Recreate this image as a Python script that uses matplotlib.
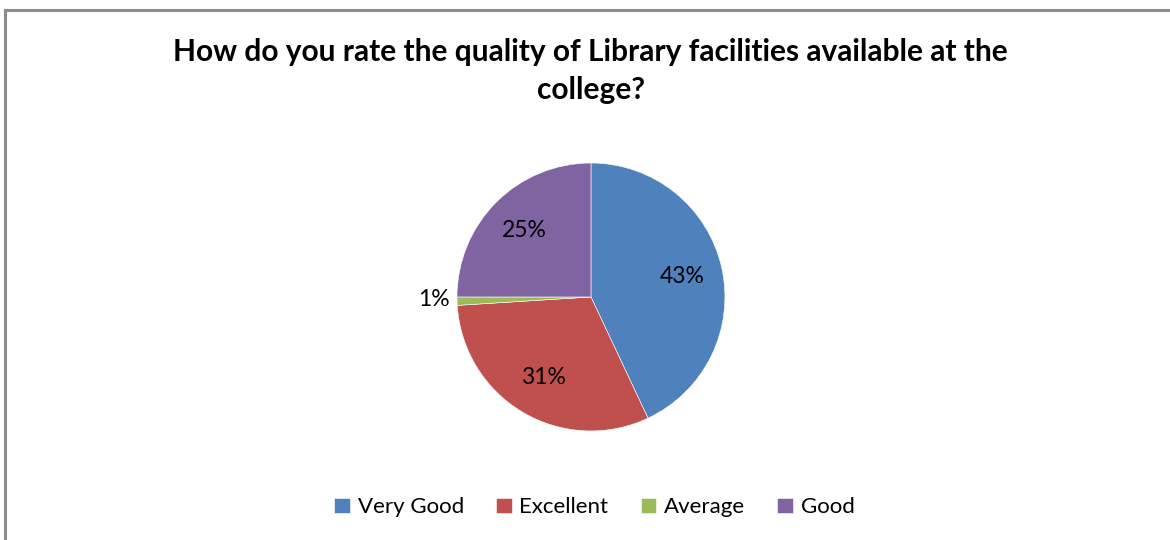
import matplotlib.pyplot as plt
from matplotlib.patches import Rectangle

# ---- dados ----
categorias = ["Very Good", "Excellent", "Average", "Good"]
valores = [43, 31, 1, 25]
cores = ["#4F81BD", "#C0504D", "#9BBB59", "#8064A2"]
titulo = "How do you rate the quality of Library facilities available at the\ncollege?"

plt.rcParams["font.family"] = ["Lato", "DejaVu Sans"]

fig = plt.figure(figsize=(11.7, 5.4), dpi=100)
fig.patch.set_facecolor("white")

# moldura cinza (so topo e esquerda visiveis)
fig.patches.append(Rectangle((5 / 1170, -0.1), 1.2, 1 - 9.5 / 540 + 0.1,
                             transform=fig.transFigure, fill=False,
                             edgecolor="#8C8C8C", lw=2.2))

ax = fig.add_axes([0.3906, 0.2019, 0.229, 0.4963])
wedges, textos, pcts = ax.pie(
    valores, colors=cores, startangle=90, counterclock=False,
    autopct="%1.0f%%", pctdistance=0.70, radius=1.0,
    wedgeprops=dict(edgecolor="white", linewidth=0.4),
    textprops=dict(fontsize=16.5, color="black"))
ax.set_aspect("equal")
ax.set_xlim(-1, 1)
ax.set_ylim(-1, 1)

# rotulo da fatia pequena fica fora da pizza
for w, t, v in zip(wedges, pcts, valores):
    if v < 5:
        t.set_position((-1.17, -0.02))
        t.set_ha("center")

fig.text(0.505, 0.93, titulo, ha="center", va="top", fontsize=21.5,
         fontweight="bold", linespacing=1.45)

fig.legend(wedges, categorias, loc="center", bbox_to_anchor=(0.508, 0.061),
           ncol=4, frameon=False, fontsize=16, handlelength=0.7,
           handleheight=0.7, handletextpad=0.35, columnspacing=1.45)

plt.savefig("out.png", dpi=100, facecolor="white")
